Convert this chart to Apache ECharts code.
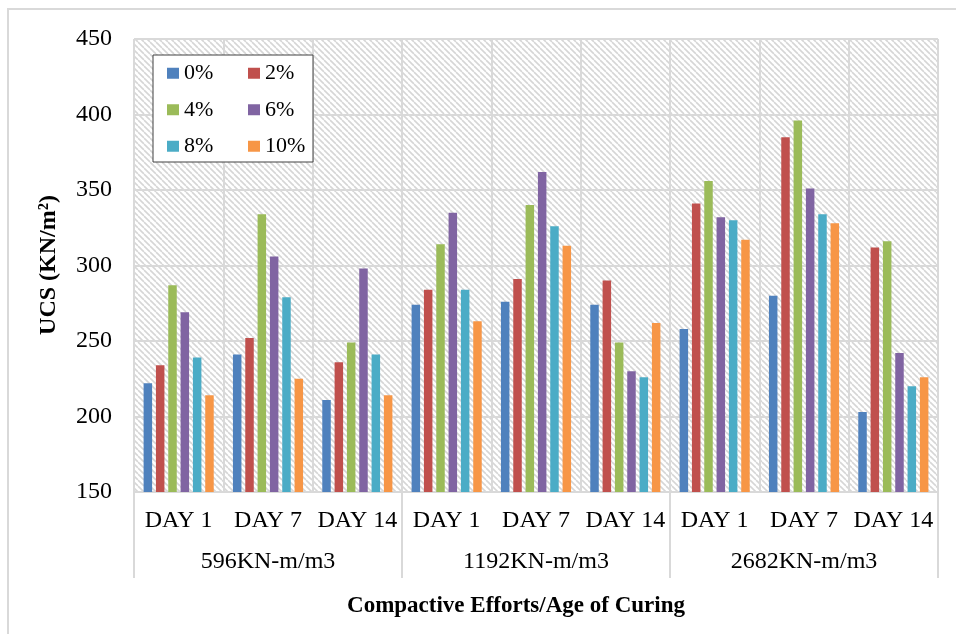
<!DOCTYPE html>
<html>
<head>
<meta charset="utf-8">
<script src="https://cdn.jsdelivr.net/npm/echarts@6/dist/echarts.min.js"></script>
<style>html,body{margin:0;padding:0;background:#fff;}#c{width:956px;height:634px;}</style>
</head>
<body>
<div id="c"></div>
<script>
const days = ['DAY 1','DAY 7','DAY 14','DAY 1','DAY 7','DAY 14','DAY 1','DAY 7','DAY 14'];
const groups = ['596KN-m/m3','1192KN-m/m3','2682KN-m/m3'];
const yTicks = {min:150, max:450, interval:50};
const s0  = [222, 241, 211, 274, 276, 274, 258, 280, 203];
const s2  = [234, 252, 236, 284, 291, 290, 341, 385, 312];
const s4  = [287, 334, 249, 314, 340, 249, 356, 396, 316];
const s6  = [269, 306, 298, 335, 362, 230, 332, 351, 242];
const s8  = [239, 279, 241, 284, 326, 226, 330, 334, 220];
const s10 = [214, 225, 214, 263, 313, 262, 317, 328, 226];
const seriesNames = ['0%','2%','4%','6%','8%','10%'];
const seriesData = [s0, s2, s4, s6, s8, s10];
const colors = ['#4F81BD','#C0504D','#9BBB59','#8064A2','#4BACC6','#F79646'];

const tile = document.createElement('canvas');
tile.width = 6; tile.height = 6;
const tc = tile.getContext('2d');
tc.fillStyle = '#ffffff'; tc.fillRect(0,0,6,6);
tc.strokeStyle = '#d6d6d6'; tc.lineWidth = 1.6;
for (const x0 of [-6, 0, 6]) { tc.beginPath(); tc.moveTo(x0, 0); tc.lineTo(x0 + 6, 6); tc.stroke(); }

const font = 'Liberation Serif';
const grid = '#d9d9d9';
const chart = echarts.init(document.getElementById('c'));
chart.setOption({
  animation: false,
  color: colors,
  textStyle: {fontFamily: font},
  grid: {left: 134, right: 18, top: 39, bottom: 142, show: true, borderWidth: 0,
         backgroundColor: {image: tile, repeat: 'repeat'}},
  legend: {
    data: seriesNames, left: 167, top: 55, width: 176, padding: 0, itemGap: 0,
    itemWidth: 12, itemHeight: 11, itemTextGap: 4, icon: 'rect', itemStyle: {borderWidth: 0},
    textStyle: {fontFamily: font, fontSize: 22, color: '#000', width: 64, lineHeight: 36.5},
    z: 6
  },
  graphic: [
    {type: 'rect', shape: {x: 153, y: 55, width: 160, height: 107}, z: 5,
     style: {fill: '#fff', stroke: '#404040', lineWidth: 1}},
    {type: 'rect', shape: {x: 8, y: 9, width: 980, height: 660}, z: -10, silent: true,
     style: {fill: 'none', stroke: grid, lineWidth: 2}},
    {type: 'text', x: 49, y: 265, rotation: Math.PI / 2, z: 5,
     style: {text: 'UCS (KN/m²)', fontFamily: font, fontSize: 24, fontWeight: 'bold', fill: '#000',
             align: 'center', verticalAlign: 'middle'}},
    {type: 'text', x: 516, y: 606, z: 5,
     style: {text: 'Compactive Efforts/Age of Curing', fontFamily: font, fontSize: 23, fontWeight: 'bold', fill: '#000',
             align: 'center', verticalAlign: 'middle'}}
  ],
  xAxis: [
    {type: 'category', data: days, position: 'bottom', axisLine: {onZero: false, lineStyle: {color: grid, width: 2}},
     axisTick: {show: false}, axisLabel: {fontFamily: font, fontSize: 24, color: '#000', margin: 17, interval: 0},
     splitLine: {show: true, lineStyle: {color: grid, width: 2}}},
    {type: 'category', data: groups, position: 'bottom', axisLine: {show: false, onZero: false},
     axisTick: {show: true, length: 86, lineStyle: {color: grid, width: 2}},
     axisLabel: {fontFamily: font, fontSize: 24, color: '#000', margin: 58, interval: 0},
     splitLine: {show: false}}
  ],
  yAxis: {type: 'value', min: yTicks.min, max: yTicks.max, interval: yTicks.interval,
    axisLine: {show: false}, axisTick: {show: false},
    axisLabel: {fontFamily: font, fontSize: 24, color: '#000', margin: 22},
    splitLine: {lineStyle: {color: grid, width: 2}}},
  series: seriesData.map((d, i) => ({
    type: 'bar', name: seriesNames[i], data: d, xAxisIndex: 0,
    barWidth: 8.5, barGap: '45%', itemStyle: {color: colors[i]}
  }))
});
</script>
</body>
</html>
